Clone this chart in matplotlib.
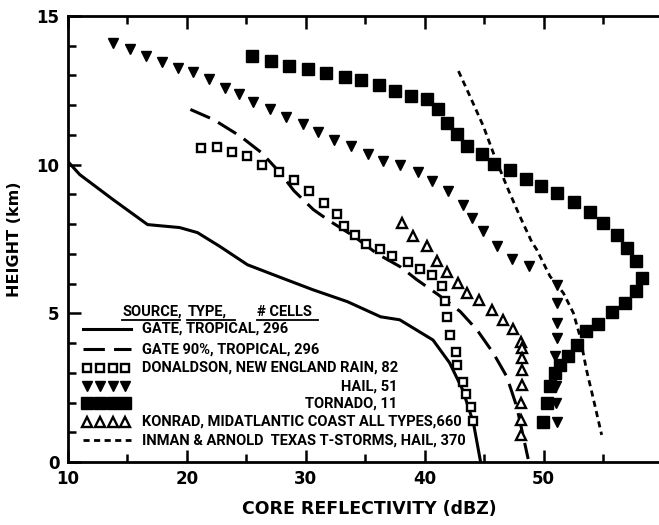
import matplotlib
matplotlib.use("Agg")
import matplotlib.pyplot as plt
from matplotlib.lines import Line2D

plt.rcParams['font.family'] = ['DejaVu Sans']
LEGFONT = ['Roboto', 'DejaVu Sans']

# ---- data (dBZ, km) ----
gate_x = [10.0, 11.0, 13.8, 16.7, 19.4, 20.9, 22.8, 25.1, 27.9, 30.6, 33.5, 36.3, 37.9, 40.7, 42.1, 43.2, 44.1, 44.7]
gate_y = [10.1, 9.66, 8.82, 7.98, 7.88, 7.71, 7.24, 6.63, 6.2, 5.79, 5.39, 4.88, 4.78, 4.1, 3.33, 2.42, 1.31, 0.0]

gate90_x = [20.3, 22.25, 24.5, 26.3, 27.85, 29.0, 30.65, 32.05, 34.0, 36.0, 38.0, 39.33, 41.15, 42.98, 44.4, 45.77, 46.9, 47.74, 48.7]
gate90_y = [11.85, 11.51, 10.95, 10.39, 9.72, 9.12, 8.48, 8.09, 7.6, 7.0, 6.55, 6.13, 5.62, 5.06, 4.44, 3.66, 2.87, 1.86, 0.1]

don_x = [21.18, 22.53, 23.79, 25.05, 26.31, 27.76, 29.0, 30.3, 31.55, 32.6, 33.25, 34.15, 35.08, 36.25, 37.23, 38.63, 39.61, 40.6, 41.43, 41.7, 41.9, 42.13, 42.64, 42.75, 43.25, 43.48, 43.87, 44.1]
don_y = [10.56, 10.6, 10.42, 10.29, 10.0, 9.76, 9.49, 9.11, 8.71, 8.32, 7.92, 7.62, 7.34, 7.16, 6.94, 6.71, 6.49, 6.3, 5.9, 5.4, 4.87, 4.28, 3.71, 3.27, 2.7, 2.29, 1.86, 1.39]

hail_x = [13.76, 15.19, 16.56, 17.9, 19.25, 20.56, 21.9, 23.17, 24.4, 25.6, 27.0, 28.3, 29.76, 31.07, 32.4, 33.8, 35.27, 36.53, 37.93, 39.42, 40.6, 42.0, 43.2, 43.96, 44.9, 46.06, 47.37, 48.8, 51.1, 51.15, 51.1, 51.1, 50.96, 50.96, 51.05, 51.05, 51.1]
hail_y = [14.1, 13.87, 13.65, 13.46, 13.26, 13.11, 12.86, 12.58, 12.38, 12.1, 11.88, 11.6, 11.35, 11.09, 10.84, 10.62, 10.34, 10.11, 9.97, 9.74, 9.46, 9.1, 8.65, 8.2, 7.75, 7.27, 6.82, 6.6, 5.96, 5.34, 4.67, 4.16, 3.55, 2.99, 2.54, 1.98, 1.36]

torn_x = [25.47, 27.07, 28.55, 30.18, 31.7, 33.3, 34.65, 36.2, 37.5, 38.86, 40.23, 41.15, 41.86, 42.7, 43.59, 44.8, 45.86, 47.18, 48.5, 49.76, 51.15, 52.58, 53.9, 55.0, 56.2, 56.98, 57.77, 58.24, 57.74, 56.84, 55.72, 54.6, 53.56, 52.78, 52.07, 51.38, 50.96, 50.54, 50.26, 49.97]
torn_y = [13.65, 13.48, 13.31, 13.2, 13.08, 12.95, 12.83, 12.66, 12.47, 12.3, 12.19, 11.87, 11.4, 11.01, 10.62, 10.34, 10.03, 9.83, 9.52, 9.29, 9.05, 8.73, 8.39, 8.04, 7.64, 7.2, 6.74, 6.18, 5.76, 5.34, 5.03, 4.64, 4.39, 3.94, 3.57, 3.27, 2.99, 2.54, 1.98, 1.36]

kon_x = [38.07, 39.05, 40.17, 41.0, 41.9, 42.83, 43.59, 44.6, 45.64, 46.56, 47.46, 48.07, 48.16, 48.16, 48.16, 48.16, 48.07, 48.07, 48.07]
kon_y = [8.04, 7.59, 7.25, 6.74, 6.37, 6.02, 5.68, 5.43, 5.12, 4.78, 4.47, 4.05, 3.83, 3.49, 3.1, 2.59, 1.98, 1.41, 0.91]

inman_x = [42.84, 43.8, 44.93, 45.77, 46.9, 48.0, 49.0, 49.42, 50.54, 51.66, 52.5, 53.06, 53.6, 54.2, 54.88]
inman_y = [13.14, 12.3, 11.29, 10.39, 9.27, 8.26, 7.4, 7.14, 6.24, 5.68, 5.01, 4.22, 3.1, 2.09, 0.91]

legend_header = ["SOURCE,", "TYPE,", "# CELLS"]
legend_labels = ["GATE, TROPICAL, 296",
                 "GATE 90%, TROPICAL, 296",
                 "DONALDSON, NEW ENGLAND RAIN, 82",
                 "HAIL, 51",
                 "TORNADO, 11",
                 "KONRAD, MIDATLANTIC COAST ALL TYPES,660",
                 "INMAN & ARNOLD  TEXAS T-STORMS, HAIL, 370"]

xticks = [10, 20, 30, 40, 50]
yticks = [0, 5, 10, 15]

# ---- figure ----
fig = plt.figure(figsize=(6.59, 5.25), dpi=100)
ax = fig.add_axes([0.103, 0.12, 0.897, 0.85])

k = 'black'
ax.plot(gate_x, gate_y, color=k, lw=2.2, solid_capstyle='butt')
ax.plot(gate90_x, gate90_y, color=k, lw=2.2, dashes=(7, 3))
ax.plot(don_x, don_y, ls='none', marker='s', ms=6.3, mfc='white', mec=k, mew=1.7)
ax.plot(hail_x, hail_y, ls='none', marker='v', ms=7.8, mfc=k, mec=k)
ax.plot(torn_x, torn_y, ls='none', marker='s', ms=8.3, mfc=k, mec=k)
ax.plot(kon_x, kon_y, ls='none', marker='^', ms=6.5, mfc='white', mec=k, mew=1.7)
ax.plot(inman_x, inman_y, color=k, lw=2.0, dashes=(2.2, 1.6))

ax.set_xlim(10, 59.7)
ax.set_ylim(0, 15)
ax.spines['right'].set_visible(False)
for s in ['left', 'bottom', 'top']:
    ax.spines[s].set_linewidth(2)
ax.set_xticks(xticks)
ax.set_xticks(range(15, 60, 10), minor=True)
ax.set_yticks(yticks)
ax.set_yticks([v for v in range(0, 16) if v % 5], minor=True)
ax.tick_params(which='both', direction='in', top=True, right=False, width=1.8)
ax.tick_params(which='major', length=9, labelsize=12, pad=6)
ax.tick_params(which='minor', length=6)
for lab in ax.get_xticklabels() + ax.get_yticklabels():
    lab.set_fontweight('bold')

ax.set_xlabel("CORE REFLECTIVITY (dBZ)", fontsize=12.5, fontweight='bold')
ax.set_ylabel("HEIGHT (km)", fontsize=11.5, fontweight='bold')
ax.xaxis.set_label_coords(0.51, -0.085)
ax.yaxis.set_label_coords(-0.077, 0.5)

# ---- legend (manual) ----
tr = ax.transAxes
fs = 10.5
hx0, hx1 = 0.026, 0.106
tx = 0.126
rx = 0.557
rows = [0.298, 0.253, 0.211, 0.170, 0.132, 0.090, 0.049]
hy = 0.336
hxs = [0.092, 0.202, 0.320]
for xh, txt in zip(hxs, legend_header):
    t = ax.text(xh, hy, txt, transform=tr, fontsize=fs, fontweight='bold', va='center', ha='left', family=LEGFONT)
ulines = [(0.092, 0.190), (0.202, 0.283), (0.320, 0.423)]
for xa, xb in ulines:
    ax.add_line(Line2D([xa, xb], [0.318, 0.318], transform=tr, color=k, lw=1.3))

ax.add_line(Line2D([hx0, hx1], [rows[0]] * 2, transform=tr, color=k, lw=2.2))
ax.add_line(Line2D([hx0, hx1], [rows[1]] * 2, transform=tr, color=k, lw=2.2, dashes=(7, 3)))
mx = [0.033, 0.055, 0.076, 0.097]
ax.add_line(Line2D(mx, [rows[2]] * 4, transform=tr, ls='none', marker='s', ms=6.3, mfc='white', mec=k, mew=1.7))
ax.add_line(Line2D(mx, [rows[3]] * 4, transform=tr, ls='none', marker='v', ms=7.5, mfc=k, mec=k))
ax.add_line(Line2D(mx, [rows[4]] * 4, transform=tr, ls='none', marker='s', ms=8.3, mfc=k, mec=k))
ax.add_line(Line2D(mx, [rows[5]] * 4, transform=tr, ls='none', marker='^', ms=6.5, mfc='white', mec=k, mew=1.7))
ax.add_line(Line2D([hx0, hx1], [rows[6]] * 2, transform=tr, color=k, lw=2.0, dashes=(2.2, 1.6)))

for i, lab in enumerate(legend_labels):
    if i in (3, 4):
        ax.text(rx, rows[i], lab, transform=tr, fontsize=fs, fontweight='bold', va='center', ha='right', family=LEGFONT)
    else:
        ax.text(tx, rows[i], lab, transform=tr, fontsize=fs, fontweight='bold', va='center', ha='left', family=LEGFONT)

fig.savefig("out.png", dpi=100)
